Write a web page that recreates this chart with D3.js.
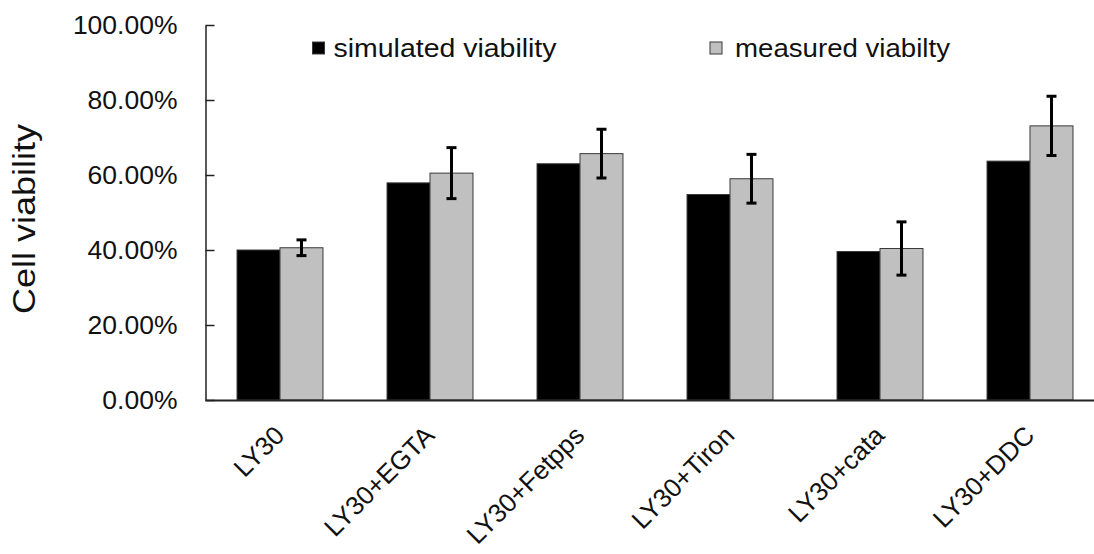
<!DOCTYPE html>
<html>
<head>
<meta charset="utf-8">
<script src="https://cdn.jsdelivr.net/npm/d3@7"></script>
<style>
  html, body { margin: 0; padding: 0; background: #fff; }
  svg { display: block; font-family: "Liberation Sans", Arial, sans-serif; }
</style>
</head>
<body>
<svg id="chart" width="1094" height="554"></svg>
<script>
// Cell viability per treatment (fractions)
const categories = ["LY30", "LY30+EGTA", "LY30+Fetpps", "LY30+Tiron", "LY30+cata", "LY30+DDC"];
const seriesNames = ["simulated viability", "measured viabilty"];
const simulated = [0.400, 0.579, 0.630, 0.548, 0.396, 0.637];
const measured = [0.406, 0.605, 0.657, 0.590, 0.404, 0.731];
const measuredErr = [0.021, 0.068, 0.065, 0.065, 0.071, 0.079];
const yTicks = [0, 0.2, 0.4, 0.6, 0.8, 1.0];
const yTitle = "Cell viability";

const seriesColors = ["#000000", "#c0c0c0"];

const svg = d3.select("#chart");
svg.append("rect").attr("width", 1094).attr("height", 554).attr("fill", "#fff");

const x0 = d3.scaleBand()
  .domain(categories)
  .range([205, 1105])
  .paddingInner(0.427)
  .paddingOuter(0.2135);

const x1 = d3.scaleBand()
  .domain(seriesNames)
  .range([0, x0.bandwidth()]);

const y = d3.scaleLinear().domain([0, 1]).range([400, 25]);

const rows = categories.map((c, i) => ({
  cat: c,
  vals: [
    { s: seriesNames[0], v: simulated[i], color: seriesColors[0] },
    { s: seriesNames[1], v: measured[i], err: measuredErr[i], color: seriesColors[1] }
  ]
}));

// Bars
const groups = svg.append("g").selectAll("g")
  .data(rows).join("g")
  .attr("transform", d => `translate(${x0(d.cat)},0)`);

groups.selectAll("rect")
  .data(d => d.vals).join("rect")
  .attr("x", d => x1(d.s))
  .attr("y", d => y(d.v))
  .attr("width", x1.bandwidth())
  .attr("height", d => y(0) - y(d.v))
  .attr("fill", d => d.color)
  .attr("stroke", "#3a3a3a")
  .attr("stroke-width", 1);

// Error bars on the measured series
const eb = groups.append("g")
  .datum(d => d.vals[1])
  .attr("stroke", "#000")
  .attr("stroke-width", 3);
const ebx = d => x1(d.s) + x1.bandwidth() / 2;
eb.append("line")
  .attr("x1", ebx).attr("x2", ebx)
  .attr("y1", d => y(d.v + d.err)).attr("y2", d => y(d.v - d.err));
eb.append("line")
  .attr("x1", d => ebx(d) - 5).attr("x2", d => ebx(d) + 5)
  .attr("y1", d => y(d.v + d.err)).attr("y2", d => y(d.v + d.err));
eb.append("line")
  .attr("x1", d => ebx(d) - 5).attr("x2", d => ebx(d) + 5)
  .attr("y1", d => y(d.v - d.err)).attr("y2", d => y(d.v - d.err));

// Y axis with inward ticks
const yAxis = d3.axisLeft(y)
  .tickValues(yTicks)
  .tickFormat(d3.format(".2%"))
  .tickSizeInner(-9)
  .tickSizeOuter(0)
  .tickPadding(28);

const yg = svg.append("g")
  .attr("transform", "translate(205.5,0)")
  .call(yAxis);
yg.select(".domain").attr("stroke", "#222").attr("stroke-width", 1.5);
yg.selectAll(".tick line").attr("stroke", "#222").attr("stroke-width", 1.5);
yg.selectAll(".tick text")
  .attr("font-family", "'Liberation Sans', Arial, sans-serif")
  .attr("font-size", 26.5)
  .attr("fill", "#111");

// X axis baseline
const xg = svg.append("g")
  .attr("transform", "translate(0,400)")
  .call(d3.axisBottom(x0).tickSize(0).tickFormat(""));
xg.select(".domain").attr("stroke", "#222").attr("stroke-width", 2);

// Rotated category labels
svg.append("g").selectAll("text")
  .data(categories).join("text")
  .attr("transform", d => `translate(${x0(d) + x0.bandwidth() / 2 + 6},437) rotate(-45)`)
  .attr("text-anchor", "end")
  .attr("font-size", 26)
  .attr("fill", "#111")
  .text(d => d);

// Y axis title
svg.append("text")
  .attr("transform", "translate(35,219) rotate(-90)")
  .attr("text-anchor", "middle")
  .attr("font-size", 31)
  .attr("textLength", 190)
  .attr("lengthAdjust", "spacingAndGlyphs")
  .attr("fill", "#111")
  .text(yTitle);

// Legend
const legendItems = [
  { name: seriesNames[0], color: seriesColors[0], x: 312, tx: 21.5, w: 223 },
  { name: seriesNames[1], color: seriesColors[1], x: 709.5, tx: 25.5, w: 215 }
];
const lg = svg.append("g").selectAll("g")
  .data(legendItems).join("g")
  .attr("transform", d => `translate(${d.x},0)`);
lg.append("rect")
  .attr("x", 0.5).attr("y", 42)
  .attr("width", 12).attr("height", 12)
  .attr("fill", d => d.color)
  .attr("stroke", "#3a3a3a").attr("stroke-width", 1);
lg.append("text")
  .attr("x", d => d.tx)
  .attr("y", 57)
  .attr("font-size", 26)
  .attr("textLength", d => d.w)
  .attr("lengthAdjust", "spacingAndGlyphs")
  .attr("fill", "#111")
  .text(d => d.name);
</script>
</body>
</html>
